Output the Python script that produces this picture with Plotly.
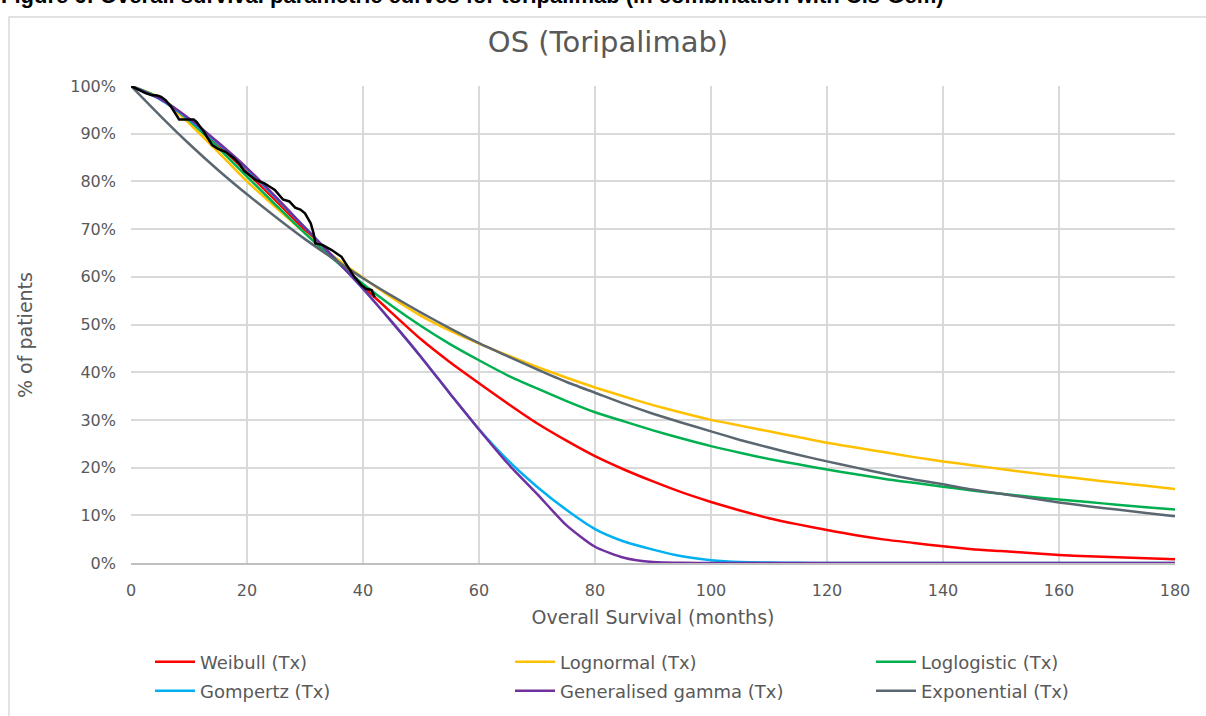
import plotly.graph_objects as go

months = [0, 5, 10, 15, 20, 25, 30, 35, 40, 45, 50, 55, 60, 65, 70, 75, 80, 85, 90,
          95, 100, 105, 110, 115, 120, 125, 130, 135, 140, 145, 150, 155, 160, 165,
          170, 175, 180]

weibull = [1.0, 0.974, 0.930, 0.877, 0.819, 0.759, 0.698, 0.638, 0.580, 0.524, 0.469,
           0.421, 0.377, 0.334, 0.293, 0.257, 0.224, 0.196, 0.171, 0.148, 0.128, 0.110,
           0.094, 0.081, 0.069, 0.058, 0.049, 0.042, 0.035, 0.029, 0.025, 0.021, 0.017,
           0.014, 0.012, 0.010, 0.008]

lognormal = [1.0, 0.975, 0.922, 0.862, 0.800, 0.745, 0.692, 0.642, 0.598, 0.556, 0.518,
             0.487, 0.460, 0.435, 0.411, 0.389, 0.368, 0.349, 0.331, 0.315, 0.300,
             0.288, 0.276, 0.264, 0.252, 0.242, 0.232, 0.222, 0.213, 0.205, 0.197,
             0.189, 0.182, 0.175, 0.168, 0.162, 0.155]

loglogistic = [1.0, 0.975, 0.928, 0.871, 0.810, 0.750, 0.691, 0.636, 0.585, 0.539, 0.497,
               0.459, 0.425, 0.393, 0.366, 0.340, 0.316, 0.297, 0.278, 0.261, 0.245,
               0.231, 0.218, 0.207, 0.196, 0.186, 0.176, 0.168, 0.160, 0.152, 0.145,
               0.139, 0.133, 0.128, 0.122, 0.117, 0.112]

gompertz = [1.0, 0.972, 0.930, 0.880, 0.826, 0.765, 0.703, 0.640, 0.575, 0.505, 0.432,
            0.355, 0.280, 0.215, 0.160, 0.112, 0.071, 0.045, 0.028, 0.014, 0.006, 0.002,
            0.001, 0.0003, 0.0, 0.0, 0.0, 0.0, 0.0, 0.0, 0.0, 0.0, 0.0, 0.0, 0.0, 0.0, 0.0]

gen_gamma = [1.0, 0.973, 0.932, 0.882, 0.828, 0.767, 0.703, 0.640, 0.575, 0.505, 0.432,
             0.355, 0.280, 0.208, 0.145, 0.080, 0.034, 0.011, 0.002, 0.0003, 0.0, 0.0,
             0.0, 0.0, 0.0, 0.0, 0.0, 0.0, 0.0, 0.0, 0.0, 0.0, 0.0, 0.0, 0.0, 0.0, 0.0]

exponential = [1.0, 0.938, 0.879, 0.824, 0.773, 0.725, 0.679, 0.637, 0.597, 0.560, 0.525,
               0.492, 0.461, 0.433, 0.406, 0.380, 0.357, 0.334, 0.313, 0.294, 0.276,
               0.258, 0.242, 0.227, 0.213, 0.200, 0.187, 0.175, 0.165, 0.154, 0.145,
               0.136, 0.127, 0.119, 0.112, 0.105, 0.098]

km_months = [0, 1.5, 2.5, 3.5, 4.5, 5.2, 6.0, 7.0, 8.0, 8.3, 10.8, 11.3, 12.5, 14.0, 15.0,
             16.3, 17.8, 18.8, 19.5, 20.5, 21.5, 23.0, 24.8, 26.2, 27.3, 28.3, 29.2, 30.0,
             31.0, 31.5, 31.8, 33.0, 34.6, 36.3, 37.3, 38.5, 39.7, 40.5, 41.5, 42.0]
km_surv = [1.0, 0.99, 0.985, 0.981, 0.98, 0.977, 0.97, 0.955, 0.935, 0.93, 0.93, 0.925,
           0.905, 0.876, 0.868, 0.862, 0.848, 0.835, 0.822, 0.812, 0.803, 0.796, 0.782,
           0.762, 0.758, 0.745, 0.741, 0.733, 0.712, 0.690, 0.670, 0.667, 0.656, 0.642,
           0.622, 0.600, 0.583, 0.575, 0.572, 0.557]

x_ticks = [0, 20, 40, 60, 80, 100, 120, 140, 160, 180]
y_ticks = [0, 0.1, 0.2, 0.3, 0.4, 0.5, 0.6, 0.7, 0.8, 0.9, 1.0]
y_tick_labels = ["0%", "10%", "20%", "30%", "40%", "50%", "60%", "70%", "80%", "90%", "100%"]

series_names = ["Weibull (Tx)", "Lognormal (Tx)", "Loglogistic (Tx)",
                "Gompertz (Tx)", "Generalised gamma (Tx)", "Exponential (Tx)"]
series_values = [weibull, lognormal, loglogistic, gompertz, gen_gamma, exponential]
series_colors = ["#FF0000", "#FFC000", "#00B050", "#00B0F0", "#7030A0", "#5B6770"]

FONT = "DejaVu Sans"
GREY = "#595959"

W, H = 1206, 716
L, R, T, B = 131, 31, 86, 153
pw, ph = W - L - R, H - T - B


def px_x(p):
    return (p - L) / pw


def px_y(p):
    return (H - B - p) / ph


# legend slot positions (pixel x of item start, pixel y of row centre)
legend_cols = [150, 510, 871]
legend_rows = [662, 691]

fig = go.Figure()
legend_layout = {}
for i, (name, vals, col) in enumerate(zip(series_names, series_values, series_colors)):
    key = "legend" if i == 0 else f"legend{i + 1}"
    fig.add_trace(go.Scatter(x=months, y=vals, name=name, mode="lines", legend=key,
                             line=dict(color=col, width=2.5, shape="spline", smoothing=0.6)))
    legend_layout[key] = dict(
        orientation="h", xref="paper", yref="paper",
        x=px_x(legend_cols[i % 3]), y=px_y(legend_rows[i // 3]),
        xanchor="left", yanchor="middle", itemwidth=40,
        font=dict(size=18, color=GREY, family=FONT), bgcolor="rgba(0,0,0,0)")

fig.add_trace(go.Scatter(x=km_months, y=km_surv, name="KM", mode="lines", showlegend=False,
                         line=dict(color="#000000", width=2.5)))

fig.update_layout(
    width=W, height=H,
    margin=dict(l=L, r=R, t=T, b=B, autoexpand=False),
    paper_bgcolor="white", plot_bgcolor="white",
    font=dict(family=FONT, color=GREY, size=16),
    title=dict(text="OS (Toripalimab)", x=px_x(608), xref="paper", xanchor="center",
               y=1 - 42 / H, yanchor="middle", font=dict(size=29, color=GREY, family=FONT)),
    xaxis=dict(range=[0, 180], tickvals=x_ticks, showgrid=True, gridcolor="#D9D9D9",
               gridwidth=1.5, zeroline=False, showline=True, linecolor="#BFBFBF",
               linewidth=1.5, ticks="", tickfont=dict(size=16, color=GREY),
               ticklabelstandoff=12, automargin=False,
               title=dict(text="Overall Survival (months)", font=dict(size=19, color=GREY),
                          standoff=12)),
    yaxis=dict(range=[0, 1.0], tickvals=y_ticks, ticktext=y_tick_labels, showgrid=True,
               gridcolor="#D9D9D9", gridwidth=1.5, zeroline=False, showline=False,
               ticks="", tickfont=dict(size=16, color=GREY), ticklabelstandoff=14,
               automargin=False),
    showlegend=True,
    **legend_layout,
)

fig.add_annotation(text="% of patients", textangle=-90, xref="paper", yref="paper",
                   x=px_x(25), y=px_y(335), xanchor="center", yanchor="middle",
                   showarrow=False, font=dict(size=19, color=GREY, family=FONT))

fig.add_shape(type="rect", xref="paper", yref="paper",
              x0=px_x(9), x1=px_x(1215), y0=px_y(17), y1=px_y(730),
              line=dict(color="#D9D9D9", width=1.5), fillcolor="rgba(0,0,0,0)", layer="below")

fig.add_annotation(text="<b>Figure 6: Overall survival parametric curves for toripalimab (in combination with Cis-Gem)</b>",
                   xref="paper", yref="paper", x=px_x(-1), y=px_y(10), xanchor="left",
                   yanchor="bottom", showarrow=False,
                   font=dict(family="Liberation Sans", size=22, color="#000000"))

fig.write_html("out.html")
